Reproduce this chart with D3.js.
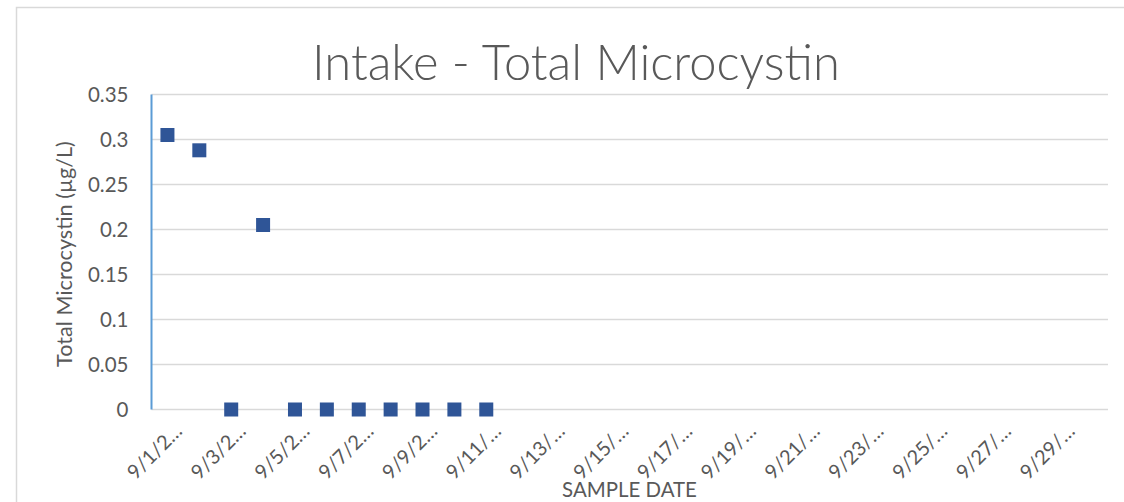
<!DOCTYPE html>
<html><head><meta charset="utf-8">
<script src="https://cdn.jsdelivr.net/npm/d3@7"></script>
<style>body{margin:0;background:#fff}svg{display:block}text{font-family:Lato,"Open Sans",sans-serif}</style>
</head><body><svg id="c" width="1124" height="502"></svg>
<script>
const dates = ["9/1/2020","9/2/2020","9/3/2020","9/4/2020","9/5/2020","9/6/2020","9/7/2020","9/8/2020","9/9/2020","9/10/2020","9/11/2020","9/12/2020","9/13/2020","9/14/2020","9/15/2020","9/16/2020","9/17/2020","9/18/2020","9/19/2020","9/20/2020","9/21/2020","9/22/2020","9/23/2020","9/24/2020","9/25/2020","9/26/2020","9/27/2020","9/28/2020","9/29/2020","9/30/2020"];
const microcystin = [0.305,0.288,0,0.205,0,0,0,0,0,0,0,null,null,null,null,null,null,null,null,null,null,null,null,null,null,null,null,null,null,null];
const yTicks = [0,0.05,0.1,0.15,0.2,0.25,0.3,0.35];
const title = "Intake - Total Microcystin";
const yTitle = "Total Microcystin (µg/L)";
const xTitle = "SAMPLE DATE";

const svg = d3.select("#c");
const L = 151.5, R = 1108, T = 94.5, B = 409.5;
const x = d3.scaleBand().domain(dates).range([L, R]);
const y = d3.scaleLinear().domain([0, 0.35]).range([B, T]);
const txt = "#595959";

function fit(sel, w) {
  const n = sel.node();
  const fs = parseFloat(sel.attr("font-size"));
  const cur = n.getComputedTextLength();
  if (cur > 0) sel.attr("font-size", fs * w / cur);
}

// chart border
svg.append("path").attr("d","M16.5,502 V7.5 H1124").attr("fill","none").attr("stroke","#d9d9d9").attr("stroke-width",1.5);

// gridlines
svg.append("g").selectAll("line").data(yTicks).join("line")
  .attr("x1", L).attr("x2", R).attr("y1", d => y(d)).attr("y2", d => y(d))
  .attr("stroke", "#d9d9d9").attr("stroke-width", 1.5);

// y axis tick labels
const yAxis = d3.axisLeft(y).tickValues(yTicks).tickSize(0).tickPadding(23).tickFormat(d => d3.format("")(d));
const gy = svg.append("g").attr("transform", `translate(${L},0)`).call(yAxis);
gy.select(".domain").remove();
gy.selectAll("text").attr("font-size", 20.5).attr("fill", txt).attr("font-family","Lato");

// x axis labels every 2 days
const xAxis = d3.axisBottom(x).tickValues(dates.filter((d,i)=>i%2===0)).tickSize(0).tickFormat(d => d.slice(0,5) + "…");
const gx = svg.append("g").attr("transform", `translate(0,${B})`).call(xAxis);
gx.select(".domain").remove();
gx.selectAll("text").attr("font-size", 20).attr("fill", txt).attr("font-family","Lato")
  .attr("text-anchor","end").attr("dy",0).attr("y",0)
  .attr("transform", "translate(16,23) rotate(-45)");

// left axis line (blue)
svg.append("line").attr("x1", L).attr("x2", L).attr("y1", T).attr("y2", B)
  .attr("stroke", "#5b9bd5").attr("stroke-width", 2);

// points
const pts = dates.map((d,i)=>({d, v: microcystin[i]})).filter(p => p.v !== null);
const s = 14;
svg.append("g").selectAll("rect").data(pts).join("rect")
  .attr("x", p => x(p.d) + x.bandwidth()/2 - s/2)
  .attr("y", p => y(p.v) - s/2)
  .attr("width", s).attr("height", s).attr("fill", "#2f5597");

// titles
const t = svg.append("text").attr("x", 576).attr("y", 80).attr("text-anchor","middle")
  .attr("font-size", 46).attr("font-weight", 300).attr("fill",txt).text(title);
fit(t, 528);
const yt = svg.append("text").attr("transform", "translate(72,254) rotate(-90)").attr("text-anchor","middle")
  .attr("font-size", 19).attr("fill",txt).text(yTitle);
fit(yt, 226);
const xt = svg.append("text").attr("x", 629.5).attr("y", 497).attr("text-anchor","middle")
  .attr("font-size", 19).attr("fill",txt).text(xTitle);
fit(xt, 135);
</script></body></html>
